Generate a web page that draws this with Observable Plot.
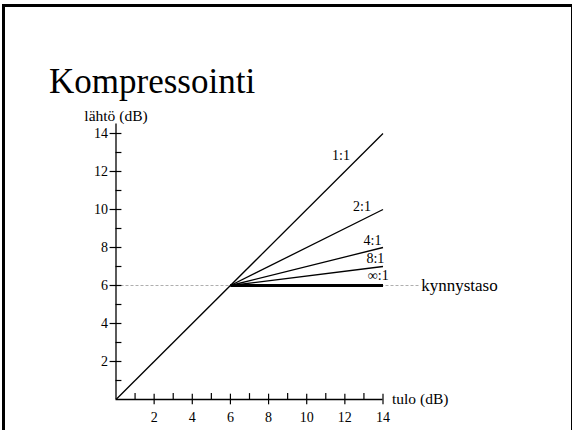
<!DOCTYPE html>
<html><head><meta charset="utf-8">
<script src="https://cdn.jsdelivr.net/npm/d3@7"></script>
<script src="https://cdn.jsdelivr.net/npm/@observablehq/plot@0.6"></script>
<style>
html,body{margin:0;padding:0;background:#fff;}
#wrap{position:relative;width:572px;height:430px;overflow:hidden;background:#fff;}
#border{position:absolute;left:2px;top:4px;width:566px;height:450px;border:3px solid #000;}
#chart{position:absolute;left:0;top:0;}
</style></head><body>
<div id="wrap"><div id="border"></div><div id="chart"></div></div>
<script>
const title = "Kompressointi";
const xLabel = "tulo (dB)";
const yLabel = "lähtö (dB)";
const thresholdLabel = "kynnystaso";
const threshold = 6;
const inputMax = 14;
const thresholdLineEnd = 16;
const ratios = ["1:1", "2:1", "4:1", "8:1", "∞:1"];
const outputAtMax = [14, 10, 8, 7, 6];
const labelX = [11.8, 12.9, 13.45, 13.6, 13.75];
const labelY = [12.85, 10.15, 8.35, 7.4, 6.5];
const majorTicks = [2, 4, 6, 8, 10, 12, 14];
const minorTicks = [1, 3, 5, 7, 9, 11, 13];

const segments = ratios.map((r, i) => ({
  ratio: r,
  x1: r === "1:1" ? 0 : threshold,
  y1: r === "1:1" ? 0 : threshold,
  x2: inputMax,
  y2: outputAtMax[i],
  thick: r.startsWith("∞")
}));
const labels = ratios.map((r, i) => ({text: r, x: labelX[i], y: labelY[i]}));

const chart = Plot.plot({
  width: 572,
  height: 430,
  marginLeft: 115.5,
  marginRight: 189.5,
  marginTop: 133,
  marginBottom: 31,
  x: {domain: [0, inputMax], axis: null},
  y: {domain: [0, inputMax], axis: null},
  style: {fontFamily: "'Liberation Serif', 'Times New Roman', serif", background: "transparent", color: "#000", overflow: "visible"},
  marks: [
    Plot.ruleY([threshold], {x1: 0, x2: thresholdLineEnd, stroke: "#999", strokeWidth: 0.8, strokeDasharray: "3,2"}),
    // axes
    Plot.ruleY([0], {x1: 0, x2: inputMax, stroke: "#000", strokeWidth: 1.3}),
    Plot.ruleX([0], {y1: 0, y2: 14.5, stroke: "#000", strokeWidth: 1.3}),
    Plot.ruleX(majorTicks, {x: d => d, y1: -0.28, y2: 0.28, stroke: "#000", strokeWidth: 1.2}),
    Plot.ruleX(minorTicks, {x: d => d, y1: 0, y2: 0.31, stroke: "#000", strokeWidth: 1.2}),
    Plot.ruleY(majorTicks, {y: d => d, x1: -0.31, x2: 0.31, stroke: "#000", strokeWidth: 1.2}),
    Plot.ruleY(minorTicks, {y: d => d, x1: 0, x2: 0.31, stroke: "#000", strokeWidth: 1.2}),
    Plot.text(majorTicks, {x: d => d, y: 0, dy: 18, text: d => String(d), fontSize: 14, lineAnchor: "middle", fill: "#000"}),
    Plot.text(majorTicks, {x: 0, y: d => d, dx: -8, text: d => String(d), textAnchor: "end", lineAnchor: "middle", fontSize: 14, fill: "#000"}),
    Plot.text([yLabel], {x: () => 0, y: () => inputMax, text: d => d, dy: -17, lineAnchor: "middle", fontSize: 15.5, fill: "#000"}),
    Plot.text([xLabel], {x: () => inputMax, y: () => 0, text: d => d, dx: 9, textAnchor: "start", lineAnchor: "middle", fontSize: 15.5, fill: "#000"}),
    Plot.text([thresholdLabel], {x: () => thresholdLineEnd, y: () => threshold, text: d => d, dx: 0, textAnchor: "start", lineAnchor: "middle", fontSize: 17, fill: "#000"}),
    // curves
    Plot.link(segments.filter(d => !d.thick), {x1: "x1", y1: "y1", x2: "x2", y2: "y2", stroke: "#000", strokeWidth: 1.3}),
    Plot.link(segments.filter(d => d.thick), {x1: "x1", y1: "y1", x2: "x2", y2: "y2", stroke: "#000", strokeWidth: 3}),
    Plot.text(labels, {x: "x", y: "y", text: "text", fontSize: 14, lineAnchor: "middle", fill: "#000"}),
    // title
    Plot.text([title], {frameAnchor: "top-left", text: d => d, dx: -67, dy: -52, textAnchor: "start", lineAnchor: "middle", fontSize: 35, fill: "#000"})
  ]
});
document.getElementById("chart").appendChild(chart);
</script>
</body></html>
